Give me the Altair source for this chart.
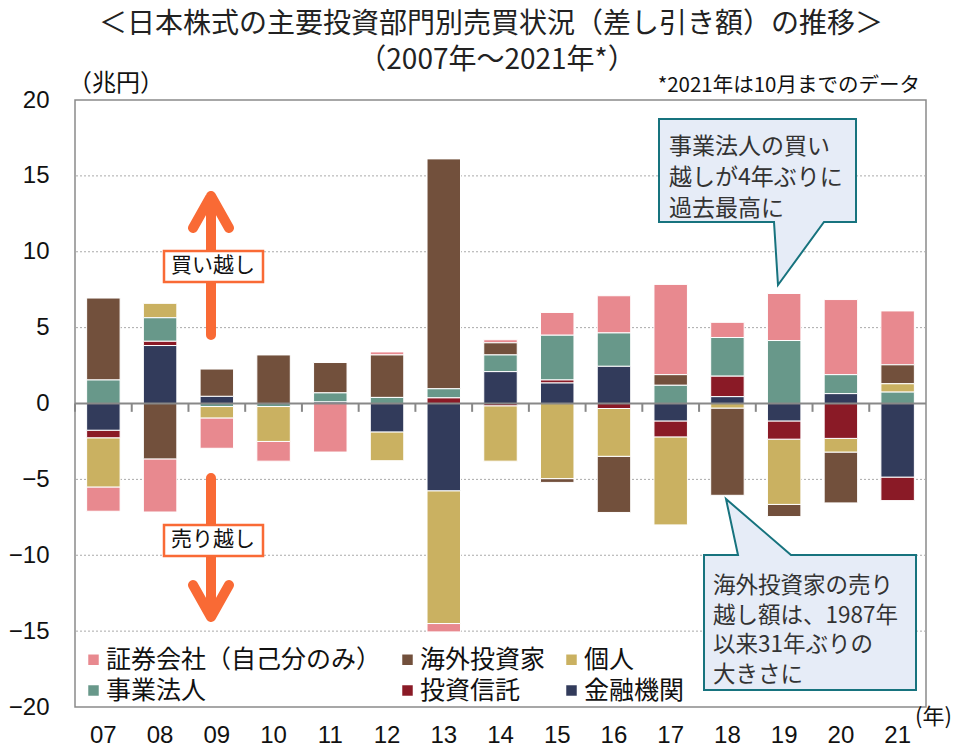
import altair as alt
import pandas as pd

JP = "Noto Sans CJK JP"
NUM = "Liberation Sans"

years = ["07", "08", "09", "10", "11", "12", "13", "14", "15", "16", "17", "18", "19", "20", "21"]
series_names = ["証券会社（自己分のみ）", "海外投資家", "個人", "事業法人", "投資信託", "金融機関"]
colors = ["#E8898F", "#72503C", "#CAB161", "#68988A", "#8A1A26", "#323B5B"]

securities = [-1.6, -3.5, -2.0, -1.3, -3.2, 0.2, -0.55, 0.2, 1.5, 2.45, 5.95, 1.0, 3.1, 4.95, 3.55]
foreigners = [5.4, -3.65, 1.8, 3.2, 2.0, 2.8, 15.15, 0.8, -0.25, -3.7, 0.7, -5.75, -0.8, -3.35, 1.25]
individuals = [-3.24, 0.95, -0.75, -2.3, 0.0, -1.9, -8.75, -3.65, -4.95, -3.15, -5.8, -0.3, -4.3, -0.9, 0.55]
corporations = [1.55, 1.55, -0.2, -0.2, 0.6, 0.4, 0.6, 1.1, 2.95, 2.2, 1.2, 2.55, 4.15, 1.25, 0.75]
inv_trusts = [-0.5, 0.28, 0.0, 0.0, 0.0, 0.0, 0.37, -0.15, 0.2, -0.33, -1.05, 1.35, -1.2, -2.3, -1.55]
financials = [-1.76, 3.82, 0.47, 0.0, 0.1, -1.87, -5.75, 2.1, 1.35, 2.45, -1.15, 0.45, -1.15, 0.65, -4.85]

# stacking order from zero outward
stack_rank = {"金融機関": 0, "投資信託": 1, "事業法人": 2, "個人": 3, "海外投資家": 4, "証券会社（自己分のみ）": 5}

rows = []
for name, vals in zip(series_names, [securities, foreigners, individuals, corporations, inv_trusts, financials]):
    for yr, v in zip(years, vals):
        if v != 0:
            rows.append({"year": yr, "series": name, "value": v, "rank": stack_rank[name]})
df = pd.DataFrame(rows)

grid_values = [15, 10, 5, -5, -10, -15]
y_ticks = [20, 15, 10, 5, 0, -5, -10, -15, -20]

W, H = 851, 607

xscale = alt.Scale(type="band", domain=years, paddingInner=0, paddingOuter=0)
xaxis = alt.Axis(title=None, labelAngle=0, labelFont=NUM, labelFontSize=24, labelColor="#111",
                 labelPadding=16, domain=False, ticks=False, grid=False)
yscale = alt.Scale(domain=[-20, 20], nice=False, zero=False)
yaxis = alt.Axis(title=None, values=y_ticks, labelFont=NUM, labelFontSize=24, labelColor="#111",
                 labelPadding=26, domain=False, ticks=False, grid=False, labelFlush=False, labelOverlap=False)

anchor = alt.Chart(pd.DataFrame({"a": [0]})).mark_rect(opacity=0).encode(
    x=alt.value(-66), x2=alt.value(-65), y=alt.value(-92), y2=alt.value(-91))

grid = alt.Chart(pd.DataFrame({"g": grid_values})).mark_rule(
    color="#aaaaaa", strokeWidth=1, strokeDash=[2, 2]).encode(
    y=alt.Y("g:Q", scale=yscale, axis=yaxis))

bars = alt.Chart(df).mark_bar(width=alt.RelativeBandSize(0.59), stroke="white", strokeWidth=1).encode(
    x=alt.X("year:N", scale=xscale, axis=xaxis, sort=years),
    y=alt.Y("value:Q", stack="zero", scale=yscale, axis=yaxis),
    color=alt.Color("series:N", scale=alt.Scale(domain=series_names, range=colors),
                    legend=alt.Legend(title=None, orient="none", legendX=6, legendY=547,
                                      direction="horizontal", columns=3, symbolType="square",
                                      symbolSize=110, symbolStrokeWidth=0, symbolOpacity=1,
                                      labelFontSize=25, labelFont=JP, labelColor="#111",
                                      labelOffset=0, columnPadding=13, rowPadding=5,
                                      padding=0, labelLimit=400)),
    order=alt.Order("rank:Q", sort="ascending"),
)

zero_line = alt.Chart(pd.DataFrame({"z": [0]})).mark_rule(color="#888888", strokeWidth=2).encode(
    y=alt.Y("z:Q", scale=yscale, axis=yaxis))

ticks = alt.Chart(pd.DataFrame({"year": years})).mark_rule(color="#888888", strokeWidth=2).encode(
    x=alt.X("year:N", scale=xscale, axis=xaxis, sort=years, bandPosition=0),
    y=alt.datum(0), y2=alt.datum(-0.55))


def geo(geometry):
    return alt.Data(values=[{"type": "Feature", "properties": {}, "geometry": geometry}])


proj = dict(type="identity", scale=1, translate=[0, 0])
ORANGE = "#F96A35"

arrows = alt.Chart(geo({"type": "MultiLineString", "coordinates": [
    [[136, 235], [136, 96]], [[118, 128], [136, 96], [154, 128]],
    [[136, 378], [136, 517]], [[118, 485], [136, 517], [154, 485]]]})).mark_geoshape(
    filled=False, stroke=ORANGE, strokeWidth=10, strokeCap="round", strokeJoin="round").project(**proj)

box1 = alt.Chart(pd.DataFrame({"a": [0]})).mark_rect(
    fill="white", stroke=ORANGE, strokeWidth=2.5).encode(
    x=alt.value(89), x2=alt.value(188), y=alt.value(151), y2=alt.value(182))
box2 = alt.Chart(pd.DataFrame({"a": [0]})).mark_rect(
    fill="white", stroke=ORANGE, strokeWidth=2.5).encode(
    x=alt.value(89), x2=alt.value(188), y=alt.value(425), y2=alt.value(456))

CALL_FILL = "#E6ECF7"
CALL_STROKE = "#17737E"
callout1 = alt.Chart(geo({"type": "Polygon", "coordinates": [[
    [584, 19], [781, 19], [781, 122], [749, 122], [703, 185], [699, 122], [584, 122], [584, 19]]]})).mark_geoshape(
    fill=CALL_FILL, stroke=CALL_STROKE, strokeWidth=2).project(**proj)
callout2 = alt.Chart(geo({"type": "Polygon", "coordinates": [[
    [629, 455], [663, 455], [651, 399], [716, 455], [841, 455], [841, 590], [629, 590], [629, 455]]]})).mark_geoshape(
    fill=CALL_FILL, stroke=CALL_STROKE, strokeWidth=2).project(**proj)


def label(text, x, y, size, align="left", baseline="middle", color="#111", font=JP, line_height=None):
    kw = dict(align=align, baseline=baseline, fontSize=size, font=font, color=color, lineBreak="\n")
    if line_height is not None:
        kw["lineHeight"] = line_height
    return alt.Chart(pd.DataFrame({"t": [text]})).mark_text(**kw).encode(
        text="t:N", x=alt.value(x), y=alt.value(y))


texts = [
    label("＜日本株式の主要投資部門別売買状況（差し引き額）の推移＞", 416, -75, 28, align="center", color="#222"),
    label("（2007年～2021年*）", 422, -39, 28, align="center", color="#222"),
    label("（兆円）", -7, -16, 24, color="#111"),
    label("*2021年は10月までのデータ", 845, -14, 20.5, align="right", color="#111"),
    label("(年)", 840, 617, 22, color="#111"),
    label("買い越し", 138, 166, 21, align="center", color="#111"),
    label("売り越し", 138, 440, 21, align="center", color="#111"),
    label("事業法人の買い\n越しが4年ぶりに\n過去最高に", 594, 36, 23, baseline="top", color="#333", line_height=31),
    label("海外投資家の売り\n越し額は、1987年\n以来31年ぶりの\n大きさに", 638, 475, 22.5, baseline="top", color="#333", line_height=29.5),
]

chart = alt.layer(anchor, grid, bars, zero_line, ticks, arrows, box1, box2, callout1, callout2, *texts).properties(
    width=W, height=H, padding=0
).configure_view(stroke="#8a8a8a", strokeWidth=1.5).configure_axis(labelFont=NUM)

chart.save("out.html", embed_options={"renderer": "svg", "actions": False})
